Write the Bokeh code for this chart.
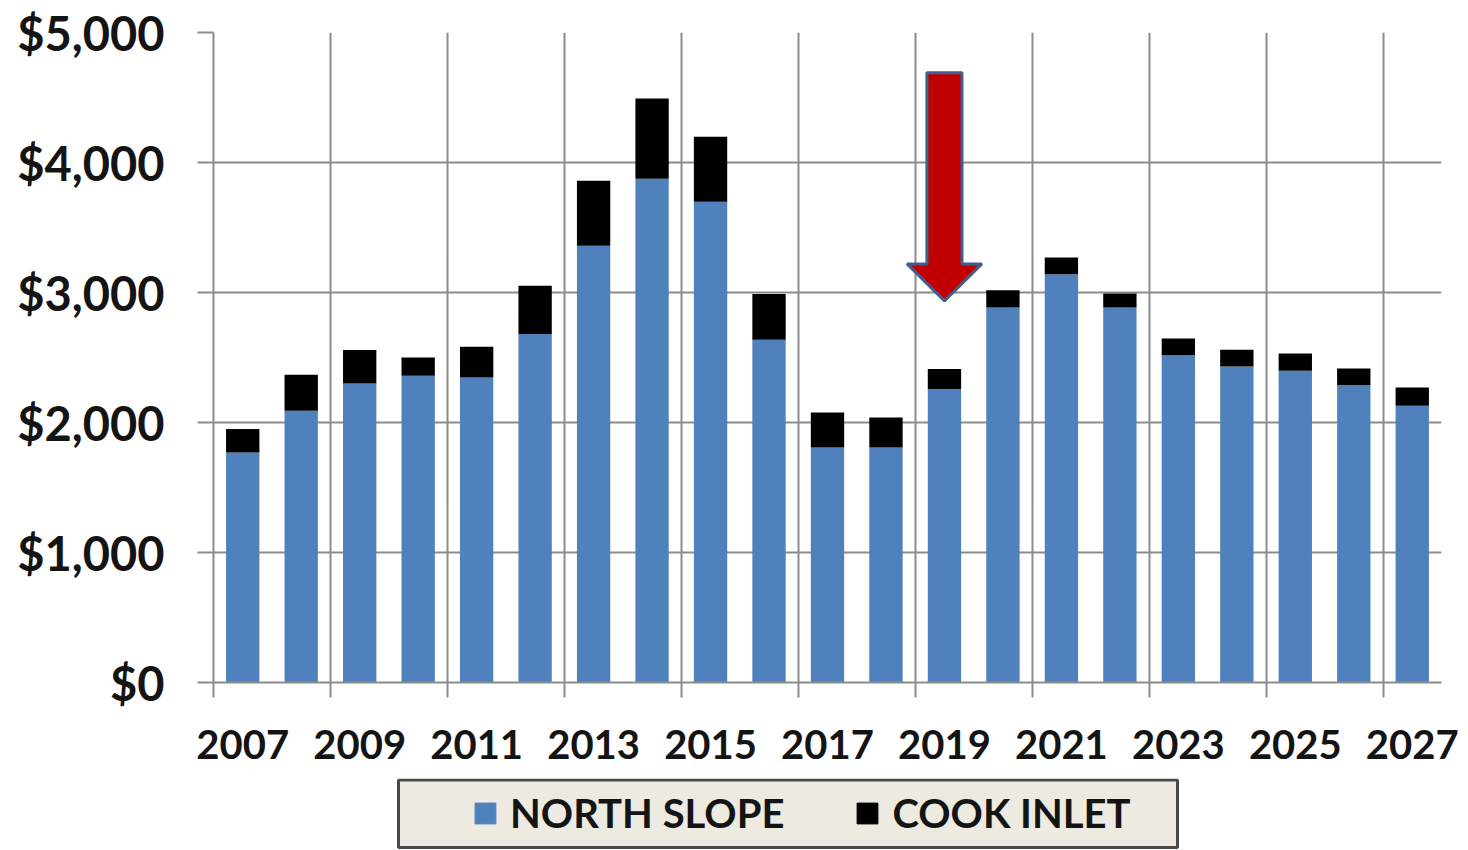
from bokeh.plotting import figure
from bokeh.layouts import column
from bokeh.models import (Range1d, FixedTicker, LinearAxis, Grid, NumeralTickFormatter,
                          Legend, LegendItem, ColumnDataSource)
from bokeh.embed import file_html
from bokeh.resources import INLINE

# ---- data ----
years = [2007, 2008, 2009, 2010, 2011, 2012, 2013, 2014, 2015, 2016, 2017,
         2018, 2019, 2020, 2021, 2022, 2023, 2024, 2025, 2026, 2027]
north_slope = [1769, 2090, 2300, 2359, 2346, 2680, 3359, 3875, 3698, 2636, 1808,
               1808, 2257, 2885, 3141, 2885, 2518, 2431, 2398, 2288, 2128]
cook_inlet = [181, 277, 257, 141, 236, 372, 501, 617, 501, 352, 269,
              230, 154, 133, 128, 107, 128, 128, 133, 127, 141]
tick_labels = ["2007", "2009", "2011", "2013", "2015", "2017", "2019",
               "2021", "2023", "2025", "2027"]
y_ticks = [0, 1000, 2000, 3000, 4000, 5000]
series_names = ["NORTH SLOPE", "COOK INLET"]
highlight_year = 2019

# ---- styles ----
BLUE = "#4F81BD"
BLACK = "#000000"
GRID = "#8C8C8C"
FONT = "Lato"
TEXT = "#141414"
LEFT, FRAME_W, RIGHT = 213, 1228, 27

idx = list(range(len(years)))
src = ColumnDataSource(dict(x=idx, north=north_slope, cook=cook_inlet))

p = figure(x_range=Range1d(-0.5, len(years) - 0.5), y_range=Range1d(0, 5000),
           frame_width=FRAME_W, frame_height=650,
           min_border_left=LEFT, min_border_top=32, min_border_right=RIGHT, min_border_bottom=96,
           x_axis_type=None, output_backend="svg", toolbar_location=None)
p.outline_line_color = None
p.background_fill_color = "white"
p.border_fill_color = "white"

# grids
boundaries = [i - 0.5 for i in idx[::2]]
p.ygrid.ticker = FixedTicker(ticks=y_ticks)
p.ygrid.grid_line_color = GRID
p.ygrid.grid_line_width = 2
xgrid = Grid(dimension=0, ticker=FixedTicker(ticks=boundaries),
             grid_line_color=GRID, grid_line_width=2)
p.add_layout(xgrid)

# bars
rs = p.vbar_stack(["north", "cook"], x="x", width=0.57, color=[BLUE, BLACK],
                  line_color=None, source=src)

# arrow
ax = years.index(highlight_year)
shaft, head = 0.30, 0.64
top, base, tip = 4690, 3220, 2936
p.patch(x=[ax - shaft, ax + shaft, ax + shaft, ax + head, ax, ax - head, ax - shaft],
        y=[top, top, base, base, tip, base, base],
        fill_color="#C00000", line_color="#3F5F8E", line_width=3)

# y axis
ya = p.yaxis[0]
ya.ticker = FixedTicker(ticks=y_ticks)
ya.formatter = NumeralTickFormatter(format="$0,0")
ya.axis_line_color = GRID
ya.axis_line_width = 2
ya.major_tick_line_color = GRID
ya.major_tick_line_width = 2
ya.major_tick_out = 16
ya.major_tick_in = 0
ya.minor_tick_line_color = None
ya.major_label_standoff = 33
ya.major_label_text_font = FONT
ya.major_label_text_font_style = "bold"
ya.major_label_text_font_size = "47px"
ya.major_label_text_color = TEXT

# x axis: labels under every other bar, tick marks at pair boundaries
label_pos = idx[::2]
xa = LinearAxis(ticker=FixedTicker(ticks=label_pos, minor_ticks=boundaries),
                major_label_overrides={pos: lab for pos, lab in zip(label_pos, tick_labels)},
                axis_line_color=GRID, axis_line_width=2,
                major_tick_line_color=None, major_tick_out=0, major_tick_in=0,
                minor_tick_line_color=GRID, minor_tick_line_width=2,
                minor_tick_out=15, minor_tick_in=0,
                major_label_standoff=32,
                major_label_text_font=FONT, major_label_text_font_style="bold",
                major_label_text_font_size="40px", major_label_text_color=TEXT)
p.add_layout(xa, "below")

# ---- legend strip (same horizontal geometry as the chart) ----
LG_H = 72
lg = figure(x_range=Range1d(0, FRAME_W), y_range=Range1d(0, LG_H),
            frame_width=FRAME_W, frame_height=LG_H,
            min_border_left=LEFT, min_border_right=RIGHT, min_border_top=0, min_border_bottom=0,
            x_axis_type=None, y_axis_type=None,
            output_backend="svg", toolbar_location=None)
lg.grid.visible = False
lg.outline_line_color = None
lg.background_fill_color = "white"
lg.border_fill_color = "white"
# legend box (screen-pixel units of the strip)
lg.quad(left=[185], right=[964], bottom=[3], top=[70.5],
        fill_color="#ECEAE1", line_color="#4A4A4A", line_width=3)
# swatch renderers for the legend (kept outside the strip's visible range)
dummy = ColumnDataSource(dict(x=[-100], top=[0]))
k1 = lg.vbar(x="x", top="top", width=1, color=BLUE, source=dummy)
k2 = lg.vbar(x="x", top="top", width=1, color=BLACK, source=dummy)
legend = Legend(items=[LegendItem(label=series_names[0], renderers=[k1]),
                       LegendItem(label=series_names[1], renderers=[k2])],
                orientation="horizontal", location=(259, 13),
                padding=0, margin=0, spacing=70,
                glyph_width=26, glyph_height=26, label_standoff=12,
                border_line_color=None, background_fill_alpha=0,
                label_text_font=FONT, label_text_font_style="bold",
                label_text_font_size="40px", label_text_color=TEXT)
lg.add_layout(legend)

layout = column(p, lg, spacing=0)
open("out.html", "w").write(file_html(layout, INLINE))
